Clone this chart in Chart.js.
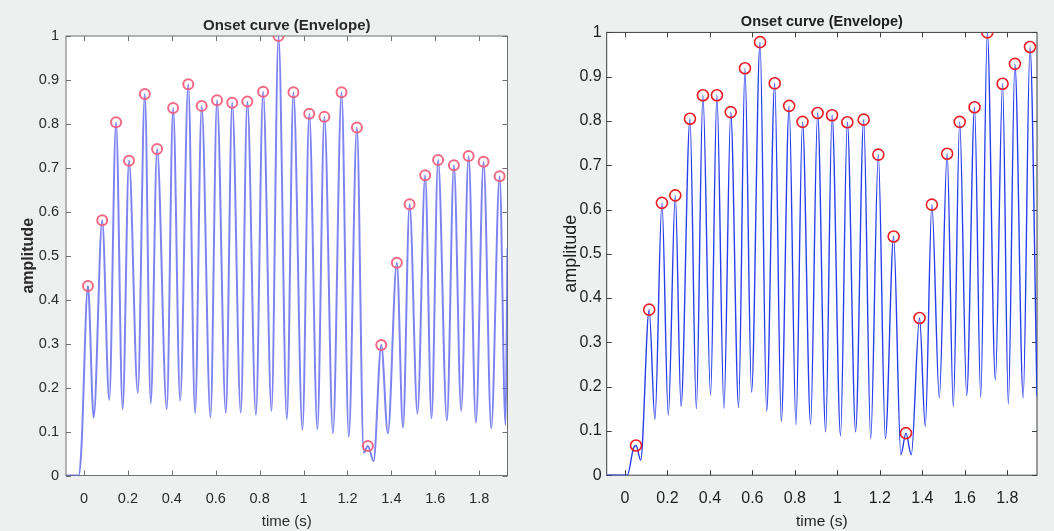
<!DOCTYPE html>
<html>
<head>
<meta charset="utf-8">
<title>Onset curve (Envelope)</title>
<script src="https://cdn.jsdelivr.net/npm/chart.js@4.4.1/dist/chart.umd.min.js"></script>
<style>
  html, body { margin: 0; padding: 0; width: 1054px; height: 531px; overflow: hidden; background: #eef0ef; }
  .panel { position: absolute; top: 0; height: 531px; }
  #panelA { left: 0; width: 525px; }
  #panelB { left: 525px; width: 529px; }
  #panelA canvas { filter: blur(0.35px); }
</style>
</head>
<body>
<div class="panel" id="panelA"><canvas id="chartA" width="525" height="531"></canvas></div>
<div class="panel" id="panelB"><canvas id="chartB" width="529" height="531"></canvas></div>
<script>
// ---- shared axis ticks ----
const xTickValues = [0, 0.2, 0.4, 0.6, 0.8, 1, 1.2, 1.4, 1.6, 1.8];
const xTickLabels = ['0', '0.2', '0.4', '0.6', '0.8', '1', '1.2', '1.4', '1.6', '1.8'];
const yTickValues = [0, 0.1, 0.2, 0.3, 0.4, 0.5, 0.6, 0.7, 0.8, 0.9, 1];
const yTickLabels = ['0', '0.1', '0.2', '0.3', '0.4', '0.5', '0.6', '0.7', '0.8', '0.9', '1'];

// ---- left recording: detected onsets (peaks) ----
const leftPeakT = [0.018, 0.083, 0.146, 0.205, 0.277, 0.333, 0.406, 0.475, 0.536, 0.606,
                   0.675, 0.744, 0.816, 0.886, 0.954, 1.026, 1.095, 1.173, 1.243, 1.293,
                   1.354, 1.425, 1.483, 1.554, 1.613, 1.685, 1.752, 1.820, 1.893];
const leftPeakV = [0.431, 0.581, 0.804, 0.716, 0.868, 0.743, 0.836, 0.890, 0.841, 0.854,
                   0.848, 0.851, 0.873, 1.000, 0.872, 0.823, 0.816, 0.872, 0.792, 0.067,
                   0.297, 0.484, 0.617, 0.683, 0.718, 0.706, 0.727, 0.714, 0.681];
// envelope minima between onsets
const leftTroughT = [0.044, 0.115, 0.176, 0.245, 0.304, 0.377, 0.438, 0.506, 0.576, 0.646,
                     0.714, 0.783, 0.854, 0.924, 0.995, 1.063, 1.134, 1.206, 1.274, 1.319,
                     1.384, 1.453, 1.519, 1.583, 1.653, 1.718, 1.785, 1.855, 1.920];
const leftTroughV = [0.132, 0.172, 0.151, 0.188, 0.164, 0.151, 0.170, 0.142, 0.132, 0.142,
                     0.143, 0.138, 0.147, 0.128, 0.104, 0.105, 0.096, 0.088, 0.052, 0.033,
                     0.096, 0.109, 0.141, 0.130, 0.125, 0.147, 0.120, 0.107, 0.115];
// silence before the first onset and the rise at the end of the window
const leftEdgeT = [-0.082, -0.024, -0.012, 1.929];
const leftEdgeV = [0, 0, 0.060, 0.517];

// ---- right recording ----
const rightPeakT = [0.052, 0.114, 0.174, 0.237, 0.306, 0.367, 0.433, 0.498, 0.565, 0.636,
                    0.705, 0.773, 0.836, 0.907, 0.975, 1.047, 1.124, 1.193, 1.265, 1.323,
                    1.387, 1.445, 1.517, 1.576, 1.646, 1.706, 1.778, 1.836, 1.907];
const rightPeakV = [0.067, 0.374, 0.615, 0.632, 0.805, 0.858, 0.858, 0.820, 0.919, 0.978,
                    0.885, 0.834, 0.798, 0.818, 0.813, 0.797, 0.803, 0.724, 0.539, 0.095,
                    0.355, 0.611, 0.726, 0.798, 0.831, 1.000, 0.884, 0.929, 0.967];
const rightTroughT = [0.074, 0.141, 0.204, 0.264, 0.336, 0.403, 0.466, 0.535, 0.596, 0.667,
                      0.736, 0.805, 0.874, 0.945, 1.015, 1.086, 1.157, 1.226, 1.299, 1.348,
                      1.414, 1.480, 1.546, 1.609, 1.675, 1.744, 1.805, 1.875];
const rightTroughV = [0.034, 0.126, 0.136, 0.155, 0.150, 0.181, 0.151, 0.153, 0.187, 0.144,
                      0.121, 0.114, 0.115, 0.098, 0.089, 0.098, 0.082, 0.083, 0.046, 0.046,
                      0.110, 0.175, 0.155, 0.180, 0.176, 0.215, 0.160, 0.175];
const rightEdgeT = [-0.086, 0.011, 0.040, 1.940];
const rightEdgeV = [0, 0, 0.061, 0.178];

// ---- helpers ----
function toPoints(ts, vs) { return ts.map((t, i) => ({ x: t, y: vs[i] })); }
function envelope(peakT, peakV, troughT, troughV, edgeT, edgeV) {
  return toPoints(peakT, peakV)
    .concat(toPoints(troughT, troughV))
    .concat(toPoints(edgeT, edgeV))
    .sort((a, b) => a.x - b.x);
}

// white plot box, MATLAB-style inward ticks on all four sides
const axesBox = {
  id: 'axesBox',
  beforeDraw(chart) {
    const { ctx, chartArea: a } = chart;
    ctx.save();
    ctx.fillStyle = '#ffffff';
    ctx.fillRect(a.left, a.top, a.right - a.left, a.bottom - a.top);
    ctx.restore();
  },
  beforeDatasetsDraw(chart, args, opts) {
    const { ctx, chartArea: a, scales } = chart;
    const L = opts.tickLen;
    ctx.save();
    ctx.strokeStyle = opts.color;
    ctx.lineWidth = opts.lineWidth;
    ctx.beginPath();
    scales.x.ticks.forEach(t => {
      const px = Math.round(scales.x.getPixelForValue(t.value)) + 0.5;
      ctx.moveTo(px, a.bottom); ctx.lineTo(px, a.bottom - L);
      ctx.moveTo(px, a.top); ctx.lineTo(px, a.top + L);
    });
    scales.y.ticks.forEach(t => {
      const py = Math.round(scales.y.getPixelForValue(t.value)) + 0.5;
      ctx.moveTo(a.left, py); ctx.lineTo(a.left + L, py);
      ctx.moveTo(a.right, py); ctx.lineTo(a.right - L, py);
    });
    ctx.stroke();
    ctx.strokeRect(a.left, a.top, a.right - a.left, a.bottom - a.top);
    ctx.restore();
  }
};

function buildChart(canvasId, cfg) {
  const family = "'Liberation Sans', Arial, Helvetica, sans-serif";
  return new Chart(document.getElementById(canvasId), {
    type: 'line',
    data: {
      datasets: [
        {
          label: 'peaks',
          type: 'line',
          data: toPoints(cfg.peakT, cfg.peakV),
          showLine: false,
          pointStyle: 'circle',
          pointRadius: cfg.markerRadius,
          pointBorderWidth: cfg.markerWidth,
          pointBorderColor: cfg.markerColor,
          pointBackgroundColor: 'rgba(0,0,0,0)',
          order: 0
        },
        {
          label: 'envelope',
          type: 'line',
          data: envelope(cfg.peakT, cfg.peakV, cfg.troughT, cfg.troughV, cfg.edgeT, cfg.edgeV),
          borderColor: cfg.lineColor,
          borderWidth: cfg.lineWidth,
          pointRadius: 0,
          cubicInterpolationMode: 'monotone',
          fill: false,
          order: 1
        }
      ]
    },
    options: {
      responsive: false,
      animation: false,
      events: [],
      layout: { padding: { left: 0, right: cfg.padRight, top: 0, bottom: 0 } },
      plugins: {
        legend: { display: false },
        tooltip: { enabled: false },
        title: {
          display: true,
          text: 'Onset curve (Envelope)',
          fullSize: false,
          color: cfg.textColor,
          font: { family, size: cfg.titleSize, weight: 'bold', lineHeight: 1.2 },
          padding: { top: cfg.titlePadTop, bottom: cfg.titlePadBottom }
        },
        axesBox: { color: cfg.boxColor, lineWidth: 1, tickLen: 5 }
      },
      scales: {
        x: {
          type: 'linear',
          min: cfg.xMin,
          max: cfg.xMax,
          afterBuildTicks: s => { s.ticks = xTickValues.map(v => ({ value: v })); },
          afterFit: s => { s.height = cfg.xAxisHeight; },
          grid: { display: false, drawTicks: false },
          border: { display: false },
          ticks: {
            autoSkip: false, maxRotation: 0, padding: cfg.xTickPad,
            color: cfg.textColor,
            font: { family, size: cfg.tickSize },
            callback: (v, i) => xTickLabels[i]
          },
          title: {
            display: true, text: 'time (s)', color: cfg.textColor,
            font: { family, size: cfg.xTitleSize, lineHeight: 1.2 },
            padding: { top: 0, bottom: cfg.xTitlePadBottom }
          }
        },
        y: {
          type: 'linear',
          min: 0,
          max: 1,
          afterBuildTicks: s => { s.ticks = yTickValues.map(v => ({ value: v })); },
          afterFit: s => { s.width = cfg.yAxisWidth; },
          grid: { display: false, drawTicks: false },
          border: { display: false },
          ticks: {
            autoSkip: false, padding: cfg.yTickPad,
            color: cfg.textColor,
            font: { family, size: cfg.tickSize },
            callback: (v, i) => yTickLabels[i]
          },
          title: {
            display: true, text: 'amplitude', color: cfg.textColor,
            font: { family, size: cfg.yTitleSize, weight: cfg.yTitleWeight, lineHeight: 1.2 },
            padding: { top: cfg.yTitlePadTop, bottom: 0 }
          }
        }
      }
    },
    plugins: [axesBox]
  });
}

buildChart('chartA', {
  peakT: leftPeakT, peakV: leftPeakV,
  troughT: leftTroughT, troughV: leftTroughV,
  edgeT: leftEdgeT, edgeV: leftEdgeV,
  xMin: -0.082, xMax: 1.929,
  lineColor: 'rgba(92, 100, 238, 0.8)', lineWidth: 2,
  markerColor: 'rgba(242, 88, 120, 0.9)', markerRadius: 5, markerWidth: 2,
  textColor: '#2a2a2a', boxColor: '#6e7270',
  titleSize: 15, titlePadTop: 17, titlePadBottom: 1,
  tickSize: 14.5, xTickPad: 15, yTickPad: 7,
  xTitleSize: 15, xTitlePadBottom: 0,
  yTitleSize: 16, yTitleWeight: 'bold', yTitlePadTop: 19,
  yAxisWidth: 66, xAxisHeight: 55.5, padRight: 17.5
});

buildChart('chartB', {
  peakT: rightPeakT, peakV: rightPeakV,
  troughT: rightTroughT, troughV: rightTroughV,
  edgeT: rightEdgeT, edgeV: rightEdgeV,
  xMin: -0.086, xMax: 1.940,
  lineColor: 'rgb(40, 62, 238)', lineWidth: 1.4,
  markerColor: 'rgb(232, 28, 36)', markerRadius: 5.5, markerWidth: 1.6,
  textColor: '#1e1e1e', boxColor: '#3c3f3e',
  titleSize: 14.5, titlePadTop: 13.5, titlePadBottom: 1.5,
  tickSize: 16, xTickPad: 14, yTickPad: 5,
  xTitleSize: 15.5, xTitlePadBottom: 0,
  yTitleSize: 18, yTitleWeight: 'normal', yTitlePadTop: 35,
  yAxisWidth: 81.7, xAxisHeight: 55.8, padRight: 17
});
</script>
</body>
</html>
